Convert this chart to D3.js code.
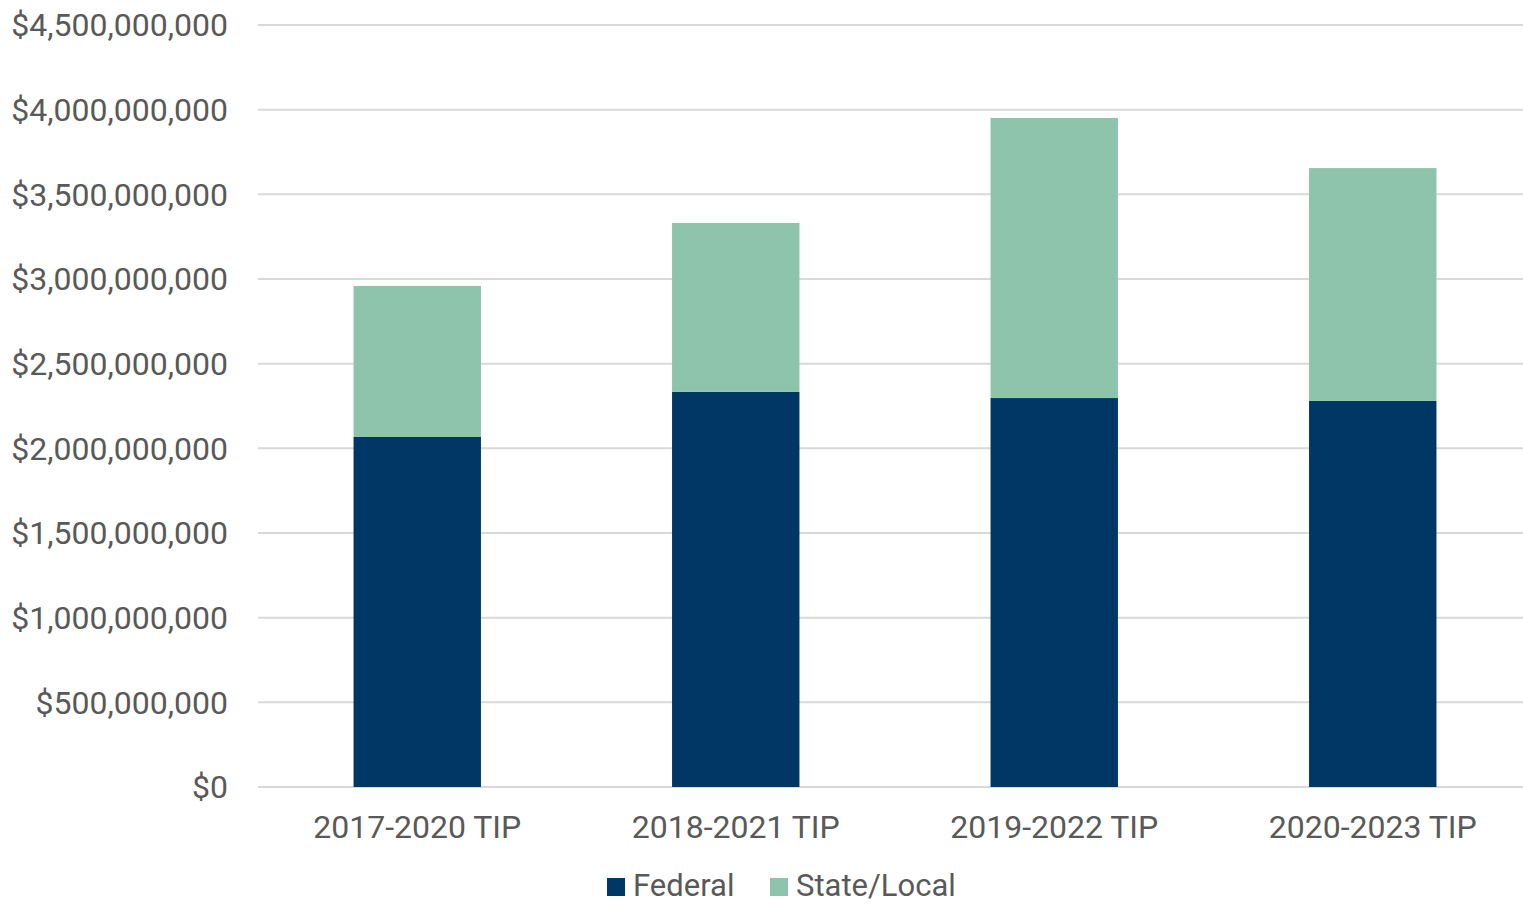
<!DOCTYPE html>
<html>
<head>
<meta charset="utf-8">
<script src="https://cdn.jsdelivr.net/npm/d3@7"></script>
<style>
  body { margin: 0; background: #fff; }
  text { font-family: Roboto, sans-serif; fill: #595959; }
</style>
</head>
<body>
<div class="chart"></div>
<script>
var categories = ["2017-2020 TIP", "2018-2021 TIP", "2019-2022 TIP", "2020-2023 TIP"];
var federal = [2067000000, 2333000000, 2297000000, 2280000000];
var stateLocal = [892000000, 998000000, 1654000000, 1375000000];
var seriesNames = ["Federal", "State/Local"];
var yTicks = [0, 500000000, 1000000000, 1500000000, 2000000000, 2500000000, 3000000000, 3500000000, 4000000000, 4500000000];
var colors = ["#003764", "#8dc4ab"];

var width = 1523, height = 904;
var margin = { top: 25, right: -9, bottom: 117, left: 258 };

var svg = d3.select(".chart").append("svg")
  .attr("width", width)
  .attr("height", height);

var x = d3.scaleBand()
  .domain(categories)
  .range([margin.left, width - margin.right])
  .paddingInner(0.6)
  .paddingOuter(0.3);

var y = d3.scaleLinear()
  .domain([0, 4500000000])
  .range([height - margin.bottom, margin.top]);

var fmt = d3.format("$,");

// gridlines
svg.append("g")
  .selectAll("line")
  .data(yTicks)
  .enter().append("line")
  .attr("x1", margin.left)
  .attr("x2", width)
  .attr("y1", d => y(d))
  .attr("y2", d => y(d))
  .attr("stroke", "#d9d9d9")
  .attr("stroke-width", 2);

// y labels
svg.append("g")
  .selectAll("text")
  .data(yTicks)
  .enter().append("text")
  .attr("x", 228)
  .attr("y", d => y(d))
  .attr("dy", "0.35em")
  .attr("text-anchor", "end")
  .attr("font-size", 32)
  .text(d => fmt(d));

var rows = categories.map((c, i) => ({ cat: c, Federal: federal[i], "State/Local": stateLocal[i] }));
var stacked = d3.stack().keys(seriesNames)(rows);

svg.append("g")
  .selectAll("g")
  .data(stacked)
  .enter().append("g")
  .attr("fill", (d, i) => colors[i])
  .selectAll("rect")
  .data(d => d)
  .enter().append("rect")
  .attr("x", d => x(d.data.cat))
  .attr("width", x.bandwidth())
  .attr("y", d => y(d[1]))
  .attr("height", d => y(d[0]) - y(d[1]));

// x labels
svg.append("g")
  .selectAll("text")
  .data(categories)
  .enter().append("text")
  .attr("x", d => x(d) + x.bandwidth() / 2)
  .attr("y", 838)
  .attr("text-anchor", "middle")
  .attr("font-size", 32)
  .text(d => d);

// legend
var legend = svg.append("g");
var lx = [607, 770];
seriesNames.forEach((s, i) => {
  legend.append("rect")
    .attr("x", lx[i])
    .attr("y", 878)
    .attr("width", 18)
    .attr("height", 18)
    .attr("fill", colors[i]);
  legend.append("text")
    .attr("x", lx[i] + 26)
    .attr("y", 896)
    .attr("font-size", 31)
    .text(s);
});
</script>
</body>
</html>
